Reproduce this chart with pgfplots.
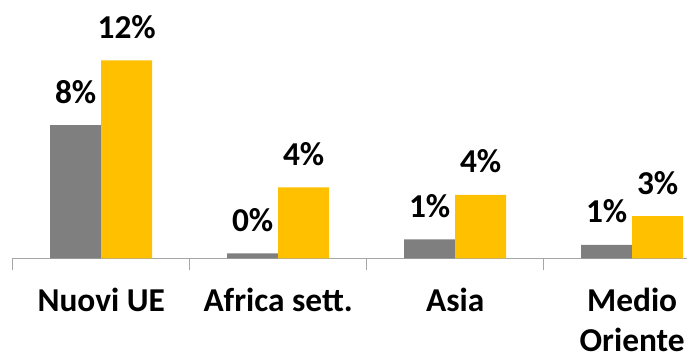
\documentclass[border=0pt]{standalone}
\usepackage{fontspec}
\setmainfont{Carlito}
\usepackage{pgfplots}
\pgfplotsset{compat=1.18}
\definecolor{barGray}{HTML}{7F7F7F}
\definecolor{barGold}{HTML}{FFC000}
\definecolor{axGray}{HTML}{A6A6A6}
\begin{document}
\begin{tikzpicture}[x=1bp,y=1bp]
\useasboundingbox (0,0) rectangle (687,355);
\begin{axis}[
  at={(12.7bp,96.7bp)}, anchor=south west,
  scale only axis, width=674.3bp, height=231bp,
  xmin=-0.5, xmax=3.31, ymin=0, ymax=14,
  ybar=0pt, bar width=51bp,
  axis x line*=bottom, axis y line=none,
  x axis line style={draw=axGray, line width=1.2bp, -},
  xtick={0,1,2,3},
  xticklabels={{\strut Nuovi UE},{\strut Africa sett.},{\strut Asia},{\strut Medio\\[0bp]Oriente}},
  major x tick style={draw=none},
  minor xtick={-0.5,0.5,1.5,2.5},
  minor tick length=12bp, major tick length=0pt, tick align=outside,
  minor x tick style={draw=axGray, line width=1.2bp},
  xticklabel style={font=\fontsize{33.5}{40}\selectfont\bfseries, align=center, anchor=north, inner sep=0pt, yshift=-25bp},
  clip=false,
  /pgf/number format/assume math mode=true,
  nodes near coords={\pgfmathprintnumber[fixed,precision=0]{\pgfplotspointmeta}\%},
  nodes near coords align={anchor=base},
  every node near coord/.append style={font=\fontsize{33.5}{40}\selectfont\bfseries, inner sep=0pt, anchor=base, yshift=22bp},
]
\addplot[fill=barGray, draw=none] coordinates {(0,8.07) (1,0.30) (2,1.15) (3,0.81)};
\addplot[fill=barGold, draw=none] coordinates {(0,12.0) (1,4.30) (2,3.84) (3,2.55)};
\end{axis}
\end{tikzpicture}
\end{document}
